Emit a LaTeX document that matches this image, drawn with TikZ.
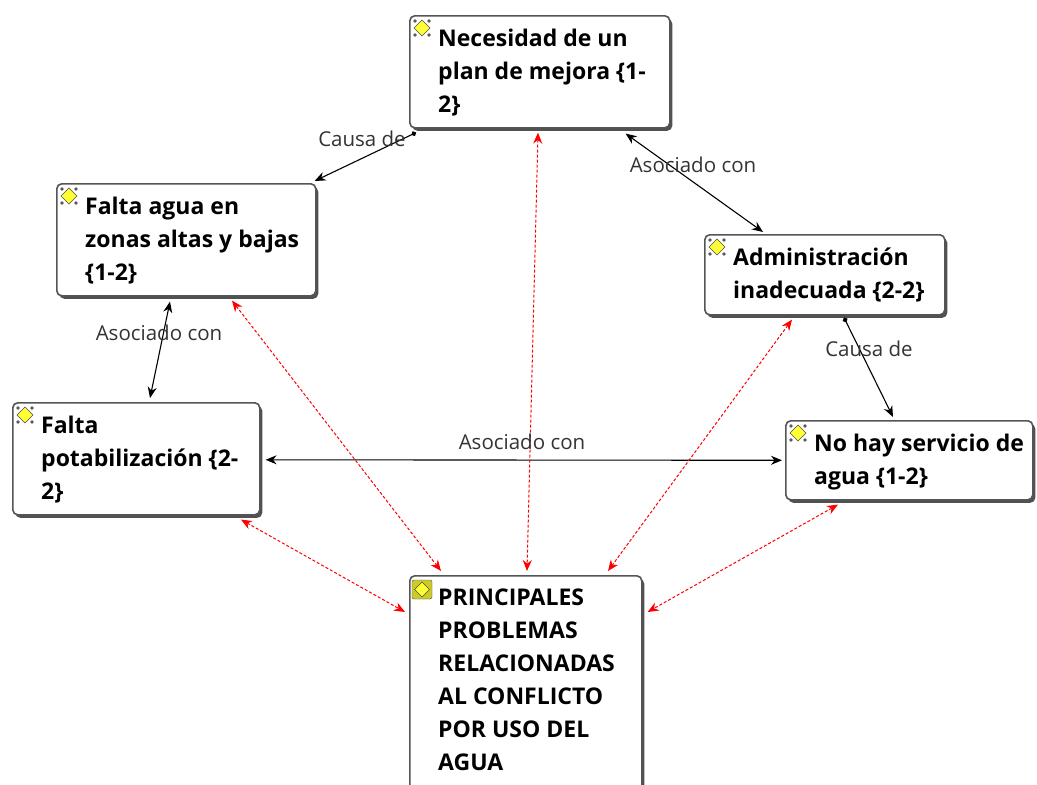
\documentclass[tikz,border=0pt]{standalone}
\usepackage{fontspec}
\setmainfont{Open Sans}
\usepackage{tikz}
\usetikzlibrary{arrows.meta}
\usetikzlibrary{calc}
\usetikzlibrary{shadows}
\definecolor{boxline}{HTML}{555555}
\definecolor{iconfill}{HTML}{FFFF33}
\definecolor{linktext}{HTML}{333333}
\newcommand{\figsizex}{1037}
\newcommand{\figsizey}{785}
\newcommand{\textinset}{29pt}
\newcommand{\texttop}{13.5pt}
\tikzset{
  conceptbox/.style={draw=boxline, line width=1.6pt, fill=white, rounded corners=5pt,
    anchor=north west, inner sep=0pt,
    drop shadow={shadow xshift=2.5pt, shadow yshift=-3pt, fill=black!80, opacity=0.85}},
  concepttext/.style={anchor=north west, align=left, inner sep=0pt, font=\fontsize{23}{33}\selectfont\bfseries},
  linklabel/.style={font=\fontsize{20.5}{24}\selectfont, text=linktext, inner sep=0pt},
  assoclink/.style={black, line width=1.1pt, {Stealth[length=11pt,width=9pt]}-{Stealth[length=11pt,width=9pt]}},
  causelink/.style={black, line width=1.1pt, {Circle[length=5pt]}-{Stealth[length=11pt,width=9pt]}},
  redlink/.style={red, line width=1pt, densely dashed, {Stealth[length=11pt,width=9pt,fill=red]}-{Stealth[length=11pt,width=9pt,fill=red]}}
}
% name, x, y, width, height, text
\newcommand{\concept}[6]{
  \node[conceptbox, minimum width=#4pt, minimum height=#5pt] (#1) at (#2,#3) {};
  \node[concepttext] (#1text) at ([xshift=\textinset,yshift=-\texttop]#1.north west) {#6};
}
% small diamond mark in the box corner
\newcommand{\conceptmark}[1]{
  \fill[black!65] ($(#1.north west)+(6,6)$) circle (1.8) ($(#1.north west)+(20,6)$) circle (1.8)
    ($(#1.north west)+(6,20)$) circle (1.8) ($(#1.north west)+(20,20)$) circle (1.8);
  \draw[black!70, fill=iconfill, line width=0.6pt] ($(#1.north west)+(13,5)$) -- ($(#1.north west)+(21,13)$)
    -- ($(#1.north west)+(13,21)$) -- ($(#1.north west)+(5,13)$) -- cycle;
}
\begin{document}
\begin{tikzpicture}[x=1pt,y=-1pt]
  \useasboundingbox (0,0) rectangle (\figsizex,\figsizey);

  \concept{plan}{409}{15}{260}{112}{Necesidad de un\\plan de mejora \{1-\\2\}}
  \concept{agua}{56}{183}{259}{112}{Falta agua en\\zonas altas y bajas\\\{1-2\}}
  \concept{admin}{704}{234}{240}{80}{Administración\\inadecuada \{2-2\}}
  \concept{potab}{12}{402}{247}{112}{Falta\\potabilización \{2-\\2\}}
  \concept{servicio}{785}{420}{247}{79}{No hay servicio de\\agua \{1-2\}}
  \concept{problemas}{409}{575}{232}{225}{PRINCIPALES\\PROBLEMAS\\RELACIONADAS\\AL CONFLICTO\\POR USO DEL\\AGUA}

  % marks
  \conceptmark{plan}
  \conceptmark{agua}
  \conceptmark{admin}
  \conceptmark{potab}
  \conceptmark{servicio}
  \fill[iconfill!80!black, draw=black!70, rounded corners=2pt] ($(problemas.north west)+(3,5)$) rectangle ($(problemas.north west)+(23,24)$);
  \draw[black!70, fill=iconfill, line width=0.6pt] ($(problemas.north west)+(13,7)$) -- ($(problemas.north west)+(20.5,14.5)$)
    -- ($(problemas.north west)+(13,22)$) -- ($(problemas.north west)+(5.5,14.5)$) -- cycle;

  % black links
  \draw[causelink] ($(plan.south west)+(7,4)$) -- ($(agua.north east)+(-2,-2)$);
  \draw[assoclink] ($(plan.south east)+(-45,5)$) -- ($(admin.north west)+(59,-2)$);
  \draw[causelink] ($(admin.south west)+(140,2)$) -- ($(servicio.north west)+(108,-3)$);
  \draw[assoclink] ($(agua.south west)+(114,5)$) -- ($(potab.north west)+(138,-4)$);
  \draw[assoclink] ($(potab.east)+(5,1)$) -- ($(servicio.west)+(-3,0)$);

  % red links
  \draw[redlink] ($(agua.south west)+(176,4)$) -- ($(problemas.north west)+(32,-4)$);
  \draw[redlink] ($(plan.south west)+(129,4)$) -- ($(problemas.north west)+(118,-4)$);
  \draw[redlink] ($(admin.south west)+(88,4)$) -- ($(problemas.north west)+(199,-4)$);
  \draw[redlink] ($(potab.south west)+(229,4)$) -- ($(problemas.north west)+(-4,37)$);
  \draw[redlink] ($(servicio.south west)+(53,4)$) -- ($(problemas.north east)+(5,37)$);

  \node[linklabel] (causaplan) at (362,139) {Causa de};
  \node[linklabel] (asocplan) at (693,165) {Asociado con};
  \node[linklabel] (causaadmin) at (869,349) {Causa de};
  \node[linklabel] (asocagua) at (159,333) {Asociado con};
  \node[linklabel] (asocpotab) at (522,442) {Asociado con};
\end{tikzpicture}
\end{document}
